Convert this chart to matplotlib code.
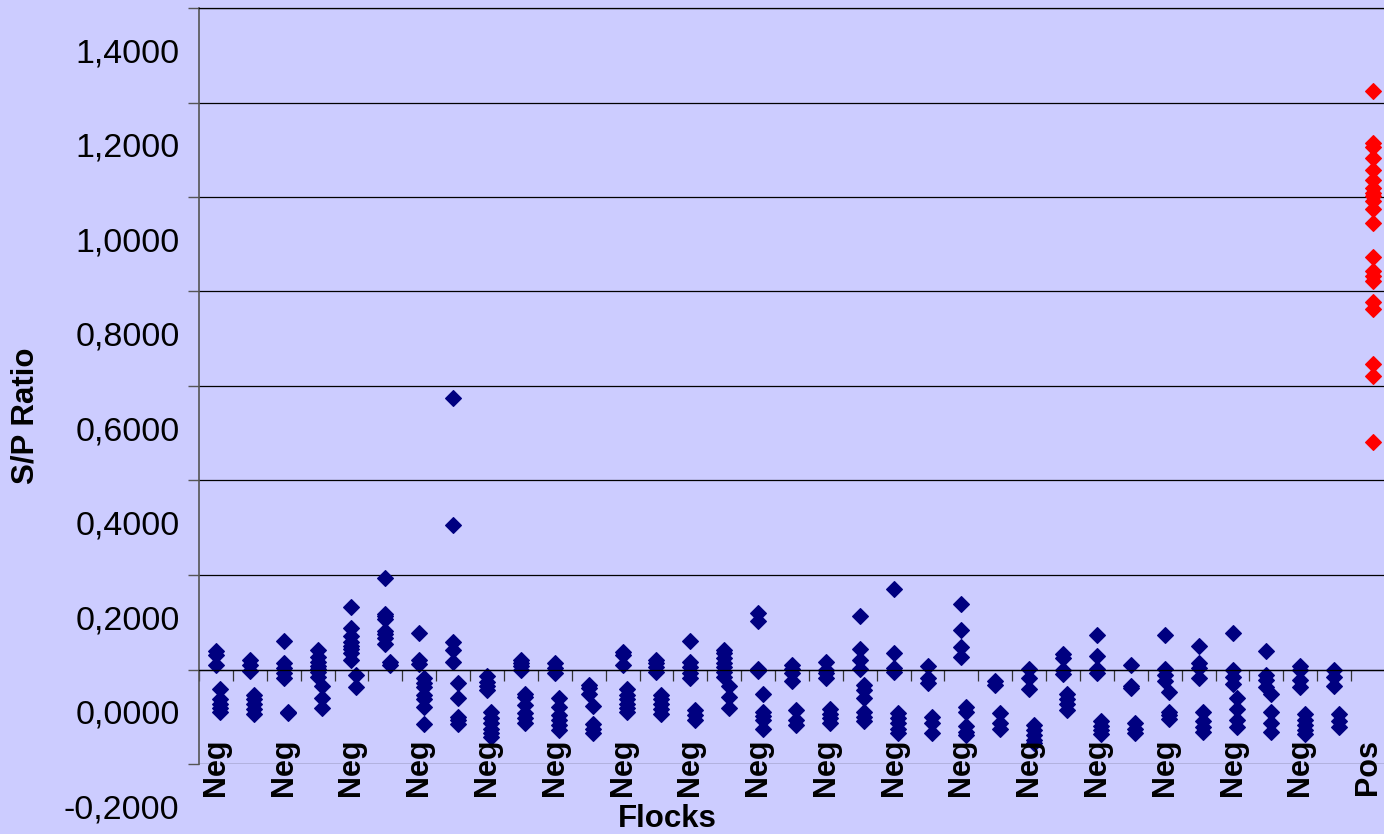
import matplotlib
matplotlib.use("Agg")
import matplotlib.pyplot as plt

plt.rcParams['font.family'] = ['Liberation Sans', 'DejaVu Sans']

# S/P ratios per flock
# upper cluster (drawn at the flock position) and lower cluster (drawn a bit to the right)
neg_upper = [
    [0.131, 0.121, 0.100],
    [0.112, 0.100, 0.088],
    [0.151, 0.104, 0.095, 0.084, 0.072],
    [0.133, 0.118, 0.107, 0.098, 0.093, 0.086, 0.076],
    [0.223, 0.178, 0.161, 0.150, 0.140, 0.135, 0.126, 0.112],
    [0.285, 0.209, 0.204, 0.197, 0.173, 0.167, 0.157, 0.146],
    [0.169, 0.112, 0.102],
    [0.666, 0.396, 0.150, 0.132, 0.106],
    [0.077, 0.065, 0.056, 0.047],
    [0.112, 0.105, 0.098, 0.091],
    [0.104, 0.095, 0.083],
    [0.058, 0.051, 0.040],
    [0.128, 0.121, 0.100],
    [0.112, 0.105, 0.097, 0.086],
    [0.151, 0.107, 0.097, 0.083, 0.072],
    [0.133, 0.125, 0.116, 0.105, 0.097, 0.086, 0.076],
    [0.211, 0.193, 0.093, 0.088],
    [0.100, 0.093, 0.084, 0.067],
    [0.106, 0.091, 0.083, 0.072],
    [0.204, 0.135, 0.111, 0.093],
    [0.261, 0.126, 0.095, 0.086],
    [0.098, 0.072, 0.063],
    [0.230, 0.174, 0.138, 0.118],
    [0.067, 0.058],
    [0.092, 0.072, 0.049],
    [0.123, 0.116, 0.090, 0.081],
    [0.164, 0.120, 0.093, 0.084],
    [0.100, 0.056, 0.051],
    [0.164, 0.093, 0.079, 0.067],
    [0.141, 0.104, 0.095, 0.074],
    [0.169, 0.091, 0.076, 0.060],
    [0.130, 0.079, 0.069, 0.055],
    [0.098, 0.091, 0.069, 0.055],
    [0.090, 0.076, 0.056],
]
neg_lower = [
    [0.049, 0.028, 0.018, 0.009, 0.002],
    [0.037, 0.028, 0.018, 0.007, -0.003],
    [0.002, -0.002],
    [0.057, 0.030, 0.009],
    [0.079, 0.053],
    [0.107, 0.100],
    [0.072, 0.063, 0.055, 0.037, 0.028, 0.012, -0.025],
    [0.062, 0.031, -0.009, -0.016, -0.024],
    [0.000, -0.012, -0.023, -0.034, -0.044, -0.051],
    [0.040, 0.033, 0.016, -0.002, -0.012, -0.023],
    [0.030, 0.012, -0.005, -0.016, -0.026, -0.037],
    [0.014, -0.024, -0.034, -0.044],
    [0.049, 0.037, 0.028, 0.018, 0.009, 0.000],
    [0.037, 0.028, 0.018, 0.007, -0.003],
    [0.005, -0.005, -0.016],
    [0.056, 0.033, 0.009],
    [0.040, 0.000, -0.007, -0.016, -0.034],
    [0.005, -0.016, -0.026],
    [0.007, -0.003, -0.012, -0.023],
    [0.058, 0.047, 0.030, 0.000, -0.009, -0.017],
    [-0.002, -0.012, -0.023, -0.034, -0.044],
    [-0.009, -0.023, -0.043],
    [0.011, 0.002, -0.029, -0.041, -0.048],
    [-0.002, -0.023, -0.034],
    [-0.026, -0.037, -0.048, -0.058, -0.065],
    [0.040, 0.028, 0.018, 0.005],
    [-0.019, -0.029, -0.037, -0.045],
    [-0.023, -0.034, -0.043],
    [0.044, 0.002, -0.005, -0.014],
    [0.000, -0.019, -0.030, -0.041],
    [0.030, 0.007, -0.016, -0.030],
    [0.040, 0.000, -0.022, -0.041],
    [-0.003, -0.016, -0.026, -0.037, -0.045],
    [-0.003, -0.019, -0.031],
]
pos_values = [1.316, 1.206, 1.196, 1.173, 1.149, 1.128, 1.110, 1.100, 1.093,
              1.082, 1.065, 1.037, 0.963, 0.935, 0.924, 0.913, 0.868, 0.854,
              0.738, 0.713, 0.572]

flock_labels = ["Neg"] * len(neg_upper) + ["Pos"]
ytick_values = [-0.2, 0.0, 0.2, 0.4, 0.6, 0.8, 1.0, 1.2, 1.4]
ytick_labels = ["-0,2000", "0,0000", "0,2000", "0,4000", "0,6000",
                "0,8000", "1,0000", "1,2000", "1,4000"]
grid_values = [-0.109, 0.091, 0.291, 0.491, 0.691, 0.891, 1.091, 1.291, 1.491]
axis_cross = 0.091

bg = '#CCCCFF'
navy = '#000080'

fig = plt.figure(figsize=(13.84, 8.34), dpi=100, facecolor=bg)
ax = fig.add_axes([199 / 1384, 70 / 834, 1186 / 1384, 756 / 834])
ax.set_facecolor(bg)

for i, vals in enumerate(neg_upper):
    ax.plot([i] * len(vals), vals, 'D', color=navy, ms=8.5, mec=navy, mew=0.8)
for i, vals in enumerate(neg_lower):
    ax.plot([i + 0.13] * len(vals), vals, 'D', color=navy, ms=8.5, mec=navy, mew=0.8)
n = len(flock_labels)
ax.plot([n - 1 + 0.15] * len(pos_values), pos_values, 'D', color='#FF0000',
        ms=8.5, mec='#FF0000', mew=0.8)

ax.set_xlim(-0.5, n - 0.5)
ax.set_ylim(grid_values[0], grid_values[-1])

# gridlines with small ticks on the value axis
ax.set_yticks(grid_values)
ax.set_yticklabels([])
ax.yaxis.grid(True, color='black', lw=0.9)
ax.set_axisbelow(True)
ax.tick_params(axis='y', length=8, width=1, color='#555555', direction='out')

# category axis crosses the value axis above the bottom
ax.spines['bottom'].set_position(('data', axis_cross))
ax.spines['bottom'].set_color('black')
ax.spines['bottom'].set_linewidth(0.9)
ax.set_xticks([i - 0.5 for i in range(n)])
ax.set_xticklabels([])
ax.tick_params(axis='x', length=8, width=0.9, color='#333333', direction='out')

ax.spines['right'].set_visible(False)
ax.spines['top'].set_color('black')
ax.spines['top'].set_linewidth(0.9)
ax.spines['left'].set_color('#555555')
ax.spines['left'].set_linewidth(1.2)

for v, lab in zip(ytick_values, ytick_labels):
    ax.annotate(lab, xy=(0, v), xycoords=('axes fraction', 'data'),
                xytext=(-14, -2), textcoords='offset points',
                ha='right', va='center', fontsize=24.5, annotation_clip=False)

for i, lab in enumerate(flock_labels):
    if i % 2 == 0:
        ax.text(i, -0.116, lab, rotation=90, ha='center', va='center',
                fontsize=22, fontweight='bold', clip_on=False)

fig.text(25 / 1384, 1 - 416 / 834, "S/P Ratio", rotation=90, ha='center',
         va='center', fontsize=22.5, fontweight='bold')
fig.text(667 / 1384, 1 - 819 / 834, "Flocks", ha='center', va='center',
         fontsize=22.5, fontweight='bold')

fig.savefig('out.png', dpi=100, facecolor=bg)
